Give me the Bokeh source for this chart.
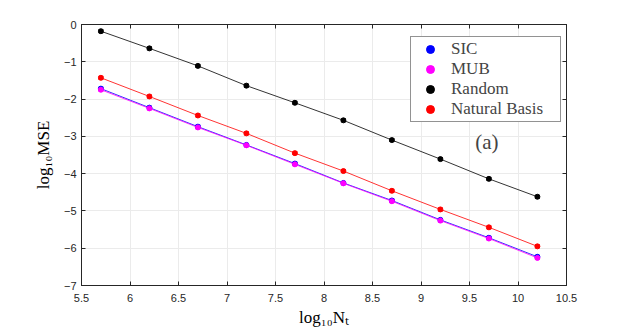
from bokeh.plotting import figure
from bokeh.models import (Legend, LegendItem, LinearAxis, Label, Range1d, FixedTicker, Whisker,
                          ColumnDataSource, CustomJSTickFormatter)
from bokeh.embed import file_html
from bokeh.resources import INLINE

log_nt = [5.7, 6.2, 6.7, 7.2, 7.7, 8.2, 8.7, 9.2, 9.7, 10.2]
sic = [-1.72, -2.23, -2.74, -3.23, -3.73, -4.25, -4.72, -5.24, -5.72, -6.23]
mub = [-1.75, -2.25, -2.76, -3.24, -3.75, -4.26, -4.74, -5.26, -5.74, -6.26]
random_ = [-0.18, -0.64, -1.11, -1.64, -2.10, -2.57, -3.10, -3.61, -4.14, -4.62]
natural = [-1.43, -1.93, -2.44, -2.92, -3.45, -3.93, -4.46, -4.96, -5.44, -5.95]
err = 0.04
x_ticks = [5.5, 6, 6.5, 7, 7.5, 8, 8.5, 9, 9.5, 10, 10.5]
y_ticks = [0, -1, -2, -3, -4, -5, -6, -7]

p = figure(width=607, height=329, output_backend="svg", toolbar_location=None,
           x_range=Range1d(5.5, 10.5), y_range=Range1d(-7, 0),
           min_border_left=81, min_border_right=41, min_border_top=24, min_border_bottom=41)
p.background_fill_color = "white"
p.border_fill_color = "white"
p.outline_line_color = "#262626"

for ax in p.xaxis + p.yaxis:
    ax.major_label_text_font = "Liberation Sans"
    ax.major_label_text_font_size = "11px"
    ax.major_label_text_color = "#262626"
    ax.axis_line_color = "#262626"
    ax.major_tick_line_color = "#262626"
    ax.major_tick_in = 4
    ax.major_tick_out = 0
    ax.minor_tick_line_color = None
    ax.axis_label_text_font = "Liberation Serif"
    ax.axis_label_text_font_style = "normal"
    ax.axis_label_text_font_size = "17px"
    ax.axis_label_text_color = "#000000"
p.xaxis.ticker = FixedTicker(ticks=x_ticks)
p.yaxis.ticker = FixedTicker(ticks=y_ticks)
p.xaxis.axis_label = "log₁₀Nₜ"
p.yaxis.axis_label = "log₁₀MSE"
p.xaxis.major_label_standoff = 8
p.yaxis.major_label_standoff = 5
p.xaxis.axis_label_standoff = 3
p.yaxis.axis_label_standoff = 8

top = LinearAxis(ticker=FixedTicker(ticks=x_ticks), formatter=CustomJSTickFormatter(code="return ''"),
                 major_tick_in=4, major_tick_out=0, minor_tick_line_color=None,
                 axis_line_color="#262626", major_tick_line_color="#262626",
                 major_label_standoff=0)
right = LinearAxis(ticker=FixedTicker(ticks=y_ticks), formatter=CustomJSTickFormatter(code="return ''"),
                   major_tick_in=4, major_tick_out=0, minor_tick_line_color=None,
                   axis_line_color="#262626", major_tick_line_color="#262626",
                   major_label_standoff=0)
p.add_layout(top, "above")
p.add_layout(right, "right")

p.xgrid.grid_line_color = "#ebebeb"
p.ygrid.grid_line_color = "#ebebeb"
p.xgrid.ticker = FixedTicker(ticks=x_ticks)
p.ygrid.ticker = FixedTicker(ticks=y_ticks)

series = [("SIC", sic, "#0000ff"), ("MUB", mub, "#ff00ff"),
          ("Random", random_, "#000000"), ("Natural Basis", natural, "#ff0000")]
renderers = {}
for name, ys, col in series:
    src = ColumnDataSource(dict(x=log_nt, y=ys,
                                lo=[v - err for v in ys], hi=[v + err for v in ys]))
    p.line("x", "y", source=src, line_color=col, line_width=1, line_alpha=0.8)
    w = Whisker(base="x", lower="lo", upper="hi", source=src, line_color=col, line_width=1)
    w.upper_head.size = 5
    w.lower_head.size = 5
    w.upper_head.line_color = col
    w.lower_head.line_color = col
    p.add_layout(w)
    r = p.scatter("x", "y", source=src, size=5, fill_color=col, line_color=col)
    renderers[name] = r

items = [LegendItem(label=name, renderers=[renderers[name]]) for name, ys, col in series]

legend = Legend(items=items, location=(329, 163), label_text_font="Liberation Serif",
                label_text_font_size="17px", label_height=20, label_width=107,
                glyph_width=34, glyph_height=20,
                spacing=0, padding=2, margin=0, border_line_color="#262626",
                border_line_width=1, background_fill_alpha=1, label_standoff=4)
p.add_layout(legend, "center")

p.add_layout(Label(x=9.68, y=-3.16, text="(a)", text_font="Liberation Serif",
                   text_font_size="21px", text_align="center", text_baseline="middle"))

open("out.html", "w").write(file_html(p, INLINE))
